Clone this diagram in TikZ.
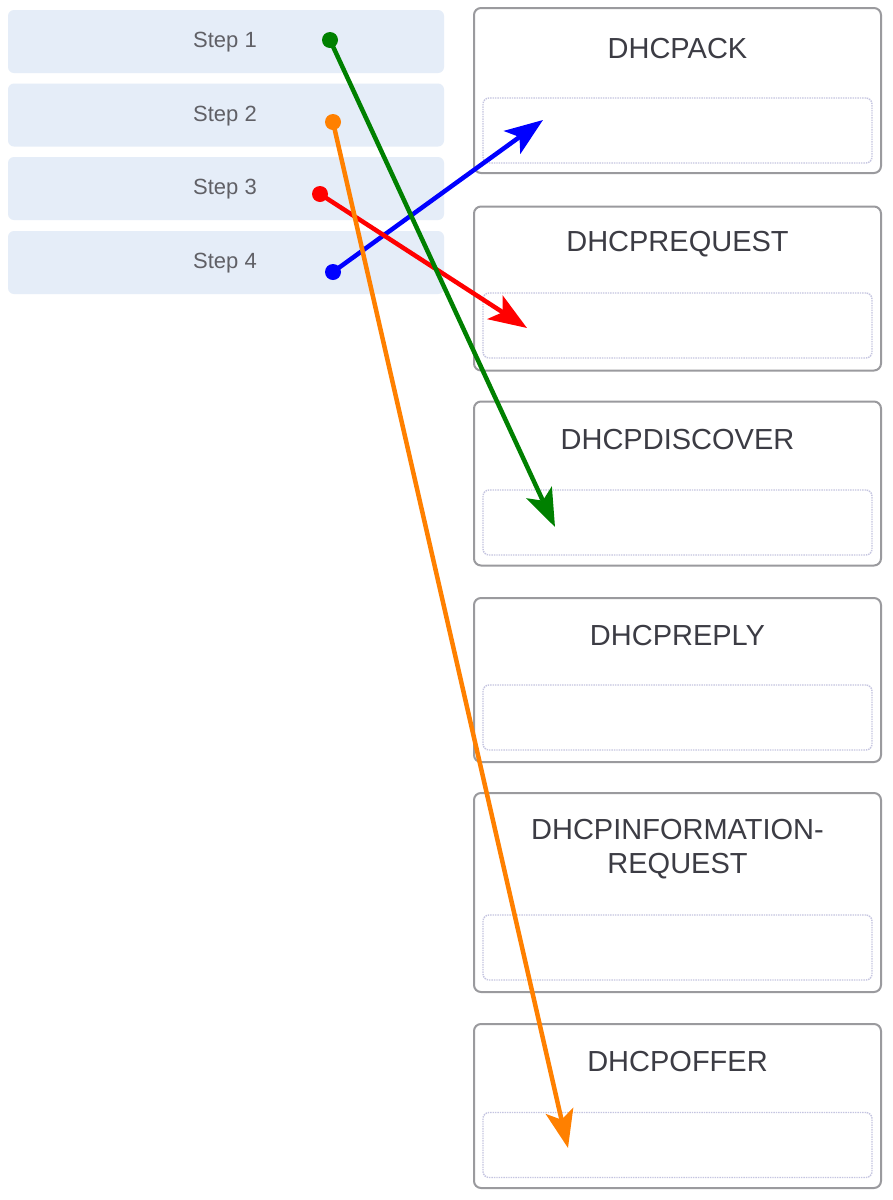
\documentclass[tikz,border=0pt]{standalone}
\usepackage{fontspec}
\setmainfont{Liberation Sans}
\usetikzlibrary{arrows.meta}
\definecolor{stepfill}{HTML}{E5EDF8}
\definecolor{steptext}{HTML}{606066}
\definecolor{boxline}{HTML}{9A9A9E}
\definecolor{innerline}{HTML}{C4C4E0}
\definecolor{titletext}{HTML}{3C3C44}
\definecolor{cgreen}{HTML}{008000}
\definecolor{corange}{HTML}{FF8000}
\definecolor{cred}{HTML}{FF0000}
\definecolor{cblue}{HTML}{0000FF}
\tikzset{
  stepbox/.style={rectangle, rounded corners=6pt, fill=stepfill, draw=none,
    minimum width=436pt, minimum height=63pt, inner sep=0pt},
  steplabel/.style={text=steptext, font=\fontsize{22}{26}\selectfont, inner sep=0pt},
  outerbox/.style={rectangle, rounded corners=7pt, draw=boxline, line width=2pt,
    minimum width=407pt, inner sep=0pt},
  innerbox/.style={rectangle, rounded corners=6pt, draw=innerline, line width=1.4pt,
    densely dotted, minimum width=389pt, minimum height=65pt, inner sep=0pt},
  titlelabel/.style={text=titletext, font=\fontsize{29}{34}\selectfont, inner sep=0pt, align=center},
  dot/.style={circle, fill=#1, minimum size=16pt, inner sep=0pt},
  conn/.style={draw=#1, line width=4.5pt,
    -{Stealth[length=38pt, width=28pt, inset=9pt]}},
}
\begin{document}
\begin{tikzpicture}[x=1pt, y=-1pt]
\useasboundingbox (0,0) rectangle (892,1200);
\fill[white] (0,0) rectangle (892,1200);
% step boxes
\node[stepbox] (s1) at (226,41.5) {};
\node[stepbox] (s2) at (226,115) {};
\node[stepbox] (s3) at (226,188.5) {};
\node[stepbox] (s4) at (226,262.5) {};
\node[steplabel] (l1) at (225,42) {Step 1};
\node[steplabel] (l2) at (225,116) {Step 2};
\node[steplabel] (l3) at (225,189) {Step 3};
\node[steplabel] (l4) at (225,263) {Step 4};
% answer boxes
\node[outerbox, minimum height=165pt] (b1) at (677.5,90.5) {};
\node[innerbox] (i1) at (677.5,130.5) {};
\node[titlelabel] (t1) at (677.5,49) {DHCPACK};
\node[outerbox, minimum height=164pt] (b2) at (677.5,288.5) {};
\node[innerbox] (i2) at (677.5,325.5) {};
\node[titlelabel] (t2) at (677.5,244) {DHCPREQUEST};
\node[outerbox, minimum height=164pt] (b3) at (677.5,483.5) {};
\node[innerbox] (i3) at (677.5,522.5) {};
\node[titlelabel] (t3) at (677.5,440) {DHCPDISCOVER};
\node[outerbox, minimum height=164pt] (b4) at (677.5,680) {};
\node[innerbox] (i4) at (677.5,717.5) {};
\node[titlelabel] (t4) at (677.5,636) {DHCPREPLY};
\node[outerbox, minimum height=199pt] (b5) at (677.5,892.5) {};
\node[innerbox] (i5) at (677.5,947.5) {};
\node[titlelabel] (t5) at (677.5,849) {DHCPINFORMATION-\\REQUEST};
\node[outerbox, minimum height=164pt] (b6) at (677.5,1106) {};
\node[innerbox] (i6) at (677.5,1145) {};
\node[titlelabel] (t6) at (677.5,1062) {DHCPOFFER};
% connector ends
\coordinate (e1) at (555,527);
\coordinate (e2) at (568,1148);
\coordinate (e3) at (527,328);
\coordinate (e4) at (543,120);
% dots
\node[dot=cgreen] (d1) at (330,40) {};
\node[dot=corange] (d2) at (333,122) {};
\node[dot=cred] (d3) at (320,194) {};
\node[dot=cblue] (d4) at (333,272) {};
% connectors
\draw[conn=cblue] (d4.center) -- (e4);
\draw[conn=cred] (d3.center) -- (e3);
\draw[conn=cgreen] (d1.center) -- (e1);
\draw[conn=corange] (d2.center) -- (e2);
\end{tikzpicture}
\end{document}
